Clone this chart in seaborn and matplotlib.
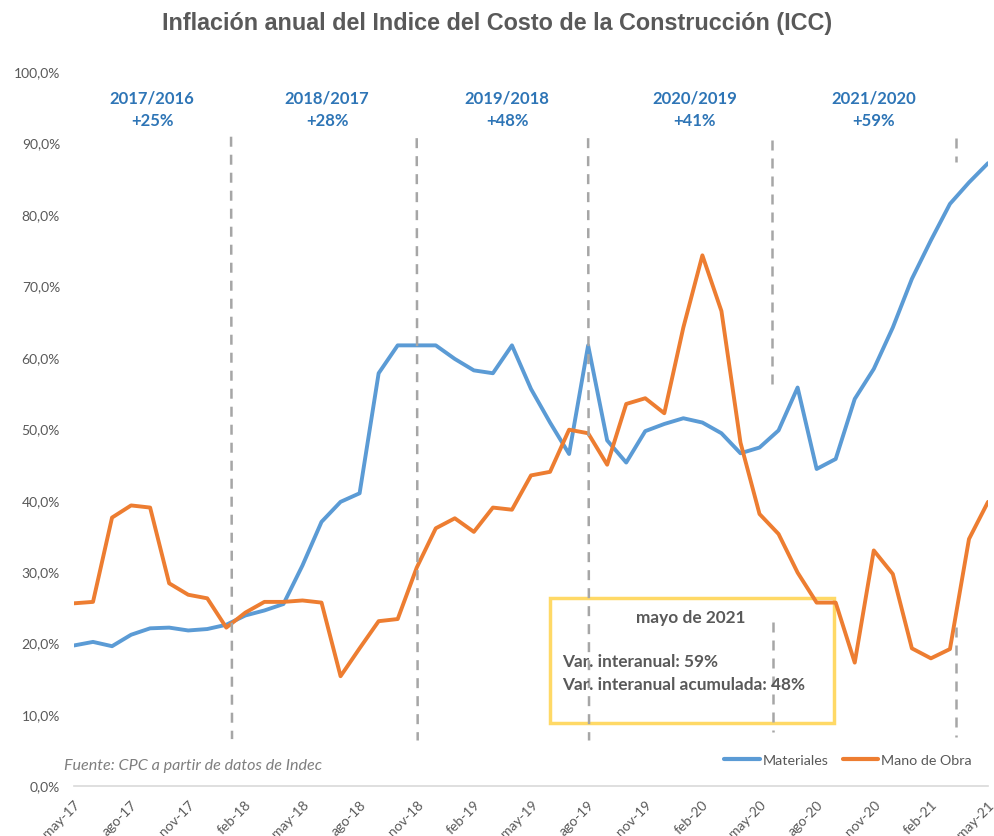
import numpy as np
import pandas as pd
import matplotlib
matplotlib.use("Agg")
import matplotlib.pyplot as plt
from matplotlib.lines import Line2D
import seaborn as sns

# ---------- data ----------
meses = ["may-17", "jun-17", "jul-17", "ago-17", "sep-17", "oct-17", "nov-17", "dic-17",
         "ene-18", "feb-18", "mar-18", "abr-18", "may-18", "jun-18", "jul-18", "ago-18",
         "sep-18", "oct-18", "nov-18", "dic-18", "ene-19", "feb-19", "mar-19", "abr-19",
         "may-19", "jun-19", "jul-19", "ago-19", "sep-19", "oct-19", "nov-19", "dic-19",
         "ene-20", "feb-20", "mar-20", "abr-20", "may-20", "jun-20", "jul-20", "ago-20",
         "sep-20", "oct-20", "nov-20", "dic-20", "ene-21", "feb-21", "mar-21", "abr-21",
         "may-21"]

materiales = [19.6, 20.1, 19.5, 21.1, 22.0, 22.1, 21.7, 21.9, 22.5, 23.8,
              24.5, 25.4, 30.8, 36.9, 39.7, 40.9, 57.7, 61.6, 61.6, 61.6,
              59.7, 58.1, 57.7, 61.6, 55.5, 50.8, 46.4, 61.6, 48.3, 45.2,
              49.6, 50.6, 51.4, 50.8, 49.3, 46.5, 47.3, 49.7, 55.7, 44.3,
              45.7, 54.1, 58.3, 64.1, 70.9, 76.3, 81.4, 84.4, 87.1]

mano_obra = [25.5, 25.7, 37.5, 39.2, 38.9, 28.3, 26.7, 26.2, 22.1, 24.2,
             25.7, 25.7, 25.9, 25.6, 15.3, 19.2, 23.0, 23.3, 30.5, 36.0,
             37.4, 35.5, 38.9, 38.6, 43.4, 43.9, 49.8, 49.3, 44.9, 53.4,
             54.2, 52.1, 64.1, 74.2, 66.4, 48.0, 38.0, 35.2, 29.8, 25.6,
             25.6, 17.2, 32.9, 29.6, 19.2, 17.8, 19.1, 34.5, 39.7]

periodos = ["2017/2016", "2018/2017", "2019/2018", "2020/2019", "2021/2020"]
variaciones = ["+25%", "+28%", "+48%", "+41%", "+59%"]

df = pd.DataFrame({
    "pos": list(range(len(meses))) * 2,
    "valor": materiales + mano_obra,
    "serie": ["Materiales"] * len(meses) + ["Mano de Obra"] * len(meses),
})

# ---------- figure ----------
sns.set_style("white")
plt.rcParams["font.family"] = ["Lato", "DejaVu Sans"]

gray = "#595959"
blue_txt = "#2E75B6"

fig = plt.figure(figsize=(9.94, 8.37), dpi=100)
ax = fig.add_axes([0.0744, 0.0603, 0.9196, 0.8537])

sns.lineplot(data=df, x="pos", y="valor", hue="serie",
             palette={"Materiales": "#5B9BD5", "Mano de Obra": "#ED7D31"},
             linewidth=2.8, ax=ax, legend=False)

ax.set_xlim(0, len(meses) - 1)
ax.set_ylim(0, 100)

# axis styling
for s in ["top", "right", "left"]:
    ax.spines[s].set_visible(False)
ax.spines["bottom"].set_color("#D9D9D9")
ax.spines["bottom"].set_linewidth(1.2)

tick_pos = list(range(0, len(meses), 3))
ax.set_xticks(tick_pos)
ax.set_xticklabels([meses[i] for i in tick_pos], rotation=45, ha="right",
                   rotation_mode="anchor", fontsize=10, color=gray)
ax.tick_params(axis="x", length=6, width=1.2, color="#D9D9D9", pad=3)

ax.set_yticks(np.arange(0, 101, 10))
ax.set_yticklabels([f"{v:.1f}%".replace(".", ",") for v in np.arange(0, 101, 10)],
                   fontsize=10, color=gray)
ax.tick_params(axis="y", length=0, pad=10)
ax.set_xlabel("")
ax.set_ylabel("")

# dashed separators (segments, as in the original)
dash_kw = dict(color="#A6A6A6", linestyle=(0, (4, 3.2)), linewidth=1.8)
ax.plot([8.25, 8.3], [90.8, 6.5], **dash_kw)
ax.plot([18.0, 18.05], [90.6, 6.3], **dash_kw)
ax.plot([27.0, 27.05], [90.6, 6.3], **dash_kw)
ax.plot([36.65, 36.65], [90.3, 56.0], **dash_kw)
ax.plot([36.7, 36.7], [22.9, 7.5], **dash_kw)
ax.plot([46.3, 46.3], [90.6, 87.3], **dash_kw)
ax.plot([46.3, 46.3], [22.2, 6.8], **dash_kw)

# period labels
label_x = [4.1, 13.3, 22.75, 32.6, 42.0]
for xp, per, var in zip(label_x, periodos, variaciones):
    ax.text(xp, 96.3, per, ha="center", va="center", fontsize=12,
            fontweight="bold", color=blue_txt)
    ax.text(xp, 93.1, var, ha="center", va="center", fontsize=12,
            fontweight="bold", color=blue_txt)

# yellow annotation box
box = plt.Rectangle((25.0, 8.8), 14.9, 17.4, fill=False,
                    edgecolor="#FFD966", linewidth=2.5, zorder=1)
ax.add_patch(box)
ax.text(32.4, 23.6, "mayo de 2021", ha="center", va="center", fontsize=12.4,
        fontweight="bold", color=gray)
ax.text(25.65, 17.4, "Var. interanual: 59%", ha="left", va="center",
        fontsize=12.4, fontweight="bold", color=gray)
ax.text(25.65, 14.2, "Var. interanual acumulada: 48%", ha="left", va="center",
        fontsize=12.4, fontweight="bold", color=gray)

# source note
ax.text(-0.5, 2.85, "Fuente: CPC a partir de datos de Indec", ha="left",
        va="center", fontsize=11.6, fontstyle="italic", color="#7F7F7F")

# legend
handles = [Line2D([], [], color="#5B9BD5", linewidth=3.0),
           Line2D([], [], color="#ED7D31", linewidth=3.0)]
fig.legend(handles, ["Materiales", "Mano de Obra"], loc="center",
           bbox_to_anchor=(0.853, 0.0908), ncol=2, frameon=False,
           fontsize=10.3, handlelength=2.5, handletextpad=0.2,
           columnspacing=1.0, labelcolor=gray)

fig.text(0.5, 0.972, "Inflación anual del Indice del Costo de la Construcción (ICC)",
         ha="center", va="center", fontsize=16.8, fontweight="bold", color=gray,
         family=["Liberation Sans", "DejaVu Sans"])

fig.savefig("out.png", dpi=100)
